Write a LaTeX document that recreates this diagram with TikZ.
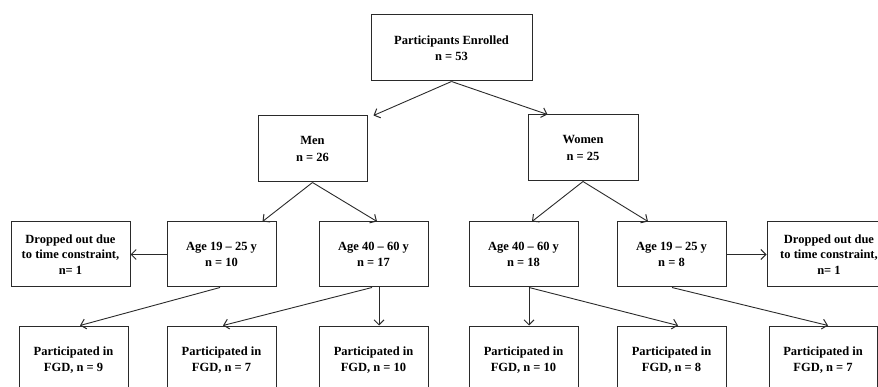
\documentclass[tikz,border=0pt]{standalone}
\usepackage{fontspec}
\setmainfont{Liberation Serif}
\usetikzlibrary{arrows.meta}
\definecolor{ln}{HTML}{2A2A2A}
\tikzset{
  box/.style={draw=ln, line width=1pt, rectangle, align=center, inner sep=0pt,
    font=\fontsize{12.5}{16.5}\selectfont\bfseries, text=black},
  conn/.style={draw=ln, line width=0.9pt, -{Straight Barb[length=5pt,width=10pt,line width=1pt]}}
}
\begin{document}
\begin{tikzpicture}[x=1pt,y=-1pt]
\useasboundingbox (0,0) rectangle (878,387);
\clip (0,0) rectangle (878,387);
\node[box, minimum width=161pt, minimum height=66pt] (top) at (451.5,48) {Participants Enrolled\\n = 53};
\node[box, minimum width=109pt, minimum height=66pt] (men) at (312.5,149) {Men\\n = 26};
\node[box, minimum width=110pt, minimum height=66pt] (women) at (583,148) {Women\\n = 25};

\node[box, minimum width=119pt, minimum height=65pt, font=\fontsize{12.5}{15.5}\selectfont\bfseries] (dL) at (70.5,254.5) {Dropped out due\\to time constraint,\\n= 1};
\node[box, minimum width=109pt, minimum height=65pt] (a1) at (221.5,254.5) {Age 19 -- 25 y\\n = 10};
\node[box, minimum width=109pt, minimum height=65pt] (a2) at (373.5,254.5) {Age 40 -- 60 y\\n = 17};
\node[box, minimum width=109pt, minimum height=65pt] (a3) at (523.5,254.5) {Age 40 -- 60 y\\n = 18};
\node[box, minimum width=109pt, minimum height=65pt] (a4) at (671.5,254.5) {Age 19 -- 25 y\\n = 8};
\node[box, minimum width=124pt, minimum height=65pt, font=\fontsize{12.5}{15.5}\selectfont\bfseries] (dR) at (829,254.5) {Dropped out due\\to time constraint,\\n= 1};

\node[box, minimum width=109pt, minimum height=68pt] (f1) at (73.5,360) {Participated in\\FGD, n = 9};
\node[box, minimum width=109pt, minimum height=68pt] (f2) at (221.5,360) {Participated in\\FGD, n = 7};
\node[box, minimum width=109pt, minimum height=68pt] (f3) at (373.5,360) {Participated in\\FGD, n = 10};
\node[box, minimum width=109pt, minimum height=68pt] (f4) at (523.5,360) {Participated in\\FGD, n = 10};
\node[box, minimum width=109pt, minimum height=68pt] (f5) at (671.5,360) {Participated in\\FGD, n = 8};
\node[box, minimum width=108pt, minimum height=68pt] (f6) at (823,360) {Participated in\\FGD, n = 7};

\draw[conn] (top.south) -- ([xshift=6pt]men.north east);
\draw[conn] (top.south) -- ([xshift=20pt]women.north west);
\draw[conn] (men.south) -- ([xshift=-14pt]a1.north east);
\draw[conn] (men.south) -- ([xshift=3.5pt]a2.north);
\draw[conn] (women.south) -- ([xshift=8.5pt]a3.north);
\draw[conn] (women.south) -- ([xshift=-23.5pt]a4.north);
\draw[conn] (a1.west) -- (dL.east);
\draw[conn] (a4.east) -- (dR.west);
\draw[conn] ([xshift=-1.5pt]a1.south) -- ([xshift=6.5pt]f1.north);
\draw[conn] ([xshift=-1.5pt]a2.south) -- ([xshift=1.5pt]f2.north);
\draw[conn] ([xshift=5.5pt]a2.south) -- ([xshift=5.5pt]f3.north);
\draw[conn] ([xshift=5.5pt]a3.south) -- ([xshift=5.5pt]f4.north);
\draw[conn] ([xshift=5.5pt]a3.south) -- ([xshift=6.5pt]f5.north);
\draw[conn] ([xshift=0.5pt]a4.south) -- ([xshift=5pt]f6.north);
\end{tikzpicture}
\end{document}
